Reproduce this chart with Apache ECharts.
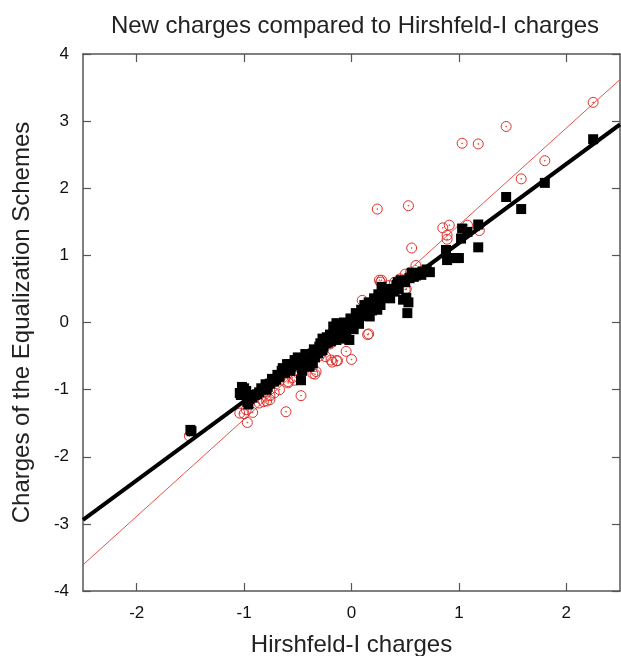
<!DOCTYPE html>
<html>
<head>
<meta charset="utf-8">
<script src="https://cdn.jsdelivr.net/npm/echarts@6/dist/echarts.min.js"></script>
<style>
html,body{margin:0;padding:0;background:#fff;}
#c{width:621px;height:656px;}
</style>
</head>
<body>
<div id="c"></div>
<script>
var xTicks = [-2, -1, 0, 1, 2];
var yTicks = [-4, -3, -2, -1, 0, 1, 2, 3, 4];

var eqSquares = [
[-1.5,-1.6],[-1.49,-1.62],
[-1.02,-0.96],[-1.0,-0.98],[-1.04,-1.05],[-1.03,-1.08],[-0.97,-1.18],[-0.95,-1.14],[-0.96,-1.22],[-0.92,-1.12],
[-0.88,-1.07],[-0.86,-1.04],[-0.82,-1.0],[-0.79,-1.0],[-0.78,-0.95],[-0.76,-0.91],[-0.72,-0.88],[-0.7,-0.85],
[-0.67,-0.81],[-0.65,-0.72],[-0.62,-0.75],[-0.6,-0.7],[-0.58,-0.62],[-0.56,-0.66],[-0.53,-0.56],[-0.52,-0.62],
[-0.51,-0.56],[-0.5,-0.6],[-0.48,-0.62],[-0.47,-0.86],[-0.46,-0.72],[-0.44,-0.55],[-0.42,-0.51],[-0.4,-0.58],
[-0.39,-0.66],[-0.36,-0.61],[-0.36,-0.46],[-0.34,-0.52],[-0.33,-0.42],[-0.3,-0.36],[-0.28,-0.42],[-0.27,-0.41],
[-0.27,-0.24],[-0.24,-0.31],[-0.22,-0.3],[-0.2,-0.21],[-0.2,-0.18],[-0.18,-0.24],[-0.17,-0.06],[-0.15,-0.14],
[-0.14,-0.01],[-0.14,-0.26],[-0.12,-0.08],[-0.1,-0.2],[-0.08,-0.16],[-0.06,-0.04],[-0.05,-0.24],[-0.04,-0.1],
[-0.02,-0.26],[0.0,0.02],[0.01,-0.01],[0.02,-0.1],[0.04,0.14],[0.06,0.04],[0.08,0.1],[0.09,0.19],[0.1,0.14],
[0.11,0.12],[0.13,0.2],[0.15,0.16],[0.17,0.09],[0.17,0.24],[0.18,0.24],[0.2,0.29],[0.22,0.22],[0.24,0.19],
[0.26,0.34],[0.28,0.53],[0.3,0.4],[0.32,0.38],[0.32,0.44],[0.35,0.42],[0.38,0.5],[0.42,0.53],[0.42,0.56],
[0.43,0.6],[0.46,0.63],[0.48,0.34],[0.51,0.37],[0.52,0.14],[0.53,0.3],[0.56,0.74],[0.6,0.7],[0.65,0.71],
[0.66,0.76],[0.73,0.75],[0.88,1.08],[0.89,0.93],[0.91,0.96],[0.97,0.96],[1.0,0.96],[1.02,1.25],[1.03,1.4],
[1.08,1.35],[1.18,1.46],[1.18,1.12],[1.44,1.87],[1.58,1.69],[1.8,2.08],[2.25,2.73],
[-0.98,-1.02],[-0.9,-1.08],[-0.84,-0.98],[-0.8,-0.92],[-0.74,-0.84],[-0.69,-0.78],[-0.64,-0.68],[-0.6,-0.62],
[-0.57,-0.72],[-0.54,-0.64],[-0.5,-0.52],[-0.45,-0.6],[-0.43,-0.47],[-0.38,-0.52],[-0.35,-0.4],[-0.31,-0.46],
[-0.29,-0.31],[-0.26,-0.36],[-0.23,-0.22],[-0.19,-0.28],[-0.16,-0.16],[-0.13,-0.2],[-0.11,-0.02],[-0.09,-0.1],
[-0.07,0.0],[-0.03,-0.05],[-0.01,0.06],[0.03,0.04],[0.05,0.12],[0.07,-0.02],[0.12,0.26],[0.14,0.1],[0.16,0.3],
[0.19,0.18],[0.21,0.36],[0.23,0.28],[0.25,0.42],[0.27,0.26],[0.29,0.46],[0.34,0.5],[0.36,0.36],[0.4,0.46],
[0.44,0.5],[0.5,0.6],[0.54,0.66],[0.58,0.68],[0.62,0.74],[0.7,0.79]
];

var oldCircles = [
[-1.51,-1.69],[-1.04,-1.35],[-1.0,-1.36],[-0.97,-1.49],[-0.92,-1.34],[-0.98,-1.3],[-0.86,-1.2],[-0.82,-1.18],
[-0.79,-1.17],[-0.76,-1.15],[-0.76,-1.09],[-0.72,-1.05],[-0.67,-1.0],[-0.61,-1.33],[-0.59,-0.9],[-0.59,-0.88],
[-0.55,-0.82],[-0.53,-0.86],[-0.5,-0.75],[-0.47,-1.09],[-0.44,-0.68],[-0.4,-0.6],[-0.36,-0.76],[-0.34,-0.77],
[-0.33,-0.73],[-0.3,-0.5],[-0.24,-0.51],[-0.2,-0.32],[-0.19,-0.56],[-0.18,-0.59],[-0.14,-0.57],[-0.13,-0.57],
[-0.1,-0.18],[-0.05,-0.43],[0.0,-0.55],[0.02,0.0],[0.06,0.08],[0.1,0.12],[0.1,0.33],[0.15,-0.18],[0.16,-0.17],
[0.12,0.22],[0.18,0.3],[0.22,0.35],[0.26,0.63],[0.27,0.6],[0.28,0.63],[0.3,0.45],[0.35,0.55],[0.4,0.6],
[0.45,0.65],[0.5,0.49],[0.51,0.5],[0.5,0.72],[0.55,0.75],[0.6,0.85],[0.24,1.69],[0.53,1.74],[0.56,1.11],
[0.85,1.41],[0.91,1.45],[0.89,1.24],[0.89,1.3],[1.08,1.45],[1.19,1.37],[1.03,2.67],[1.18,2.66],[1.44,2.92],
[1.58,2.14],[1.8,2.41],[2.25,3.28]
];

var eqFit = [[-2.5,-2.94],[2.5,2.95]];
var oldFit = [[-2.5,-3.61],[2.5,3.62]];

var axisCol = '#555';
var font = 'Liberation Sans, Arial, Helvetica, sans-serif';

function mkX(pos, show){
  return {type:'value', position:pos, min:-2.5, max:2.5, interval:0.5,
    axisLine:{show:true, onZero:false, lineStyle:{color:axisCol, width:1.5}},
    axisTick:{show:true, inside:true, length:8, lineStyle:{color:axisCol, width:1.2},
      customValues: xTicks},
    axisLabel:{show:show, color:'#111', fontSize:17, fontFamily:font, margin:14,
      customValues: xTicks},
    splitLine:{show:false}};
}
function mkY(pos, show){
  return {type:'value', position:pos, min:-4, max:4, interval:1,
    axisLine:{show:true, onZero:false, lineStyle:{color:axisCol, width:1.5}},
    axisTick:{show:true, inside:true, length:8, lineStyle:{color:axisCol, width:1.2},
      customValues: yTicks},
    axisLabel:{show:show, color:'#111', fontSize:17, fontFamily:font, margin:14,
      customValues: yTicks},
    splitLine:{show:false}};
}

var x0 = mkX('bottom', true);
x0.name = 'Hirshfeld-I charges'; x0.nameLocation='middle'; x0.nameGap=42;
x0.nameTextStyle = {fontSize:24, color:'#222', fontFamily:font};
var x1 = mkX('top', false);
var y0 = mkY('left', true);
y0.name = 'Charges of the Equalization Schemes'; y0.nameLocation='middle'; y0.nameGap=49;
y0.nameTextStyle = {fontSize:24, color:'#222', fontFamily:font};
var y1 = mkY('right', false);

var circlePath = 'path://M0,-10A10,10 0 1,1 0,10A10,10 0 1,1 0,-10ZM0,-0.8A0.8,0.8 0 1,1 0,0.8A0.8,0.8 0 1,1 0,-0.8Z';

var chart = echarts.init(document.getElementById('c'), null, {renderer:'canvas'});
chart.setOption({
  animation:false,
  backgroundColor:'#fff',
  title:{text:'New charges compared to Hirshfeld-I charges', left:350, textAlign:'center', top:9,
    textStyle:{fontSize:24, fontWeight:'normal', color:'#222', fontFamily:font}},
  grid:{left:83, right:1, top:54, bottom:65, containLabel:false, outerBoundsMode:'none'},
  xAxis:[x0, x1],
  yAxis:[y0, y1],
  series:[
    {type:'line', data:oldFit, symbol:'none', lineStyle:{color:'#e2554a', width:1}, z:1},
    {type:'scatter', data:oldCircles, symbol:circlePath, symbolSize:10,
      itemStyle:{color:'rgba(0,0,0,0)', borderColor:'#e0302a', borderWidth:1, opacity:1}, z:2},
    {type:'line', data:eqFit, symbol:'none', lineStyle:{color:'#000', width:4}, z:3},
    {type:'scatter', data:eqSquares, symbol:'rect', symbolSize:10,
      itemStyle:{color:'#000', opacity:1}, z:4}
  ]
});
</script>
</body>
</html>
